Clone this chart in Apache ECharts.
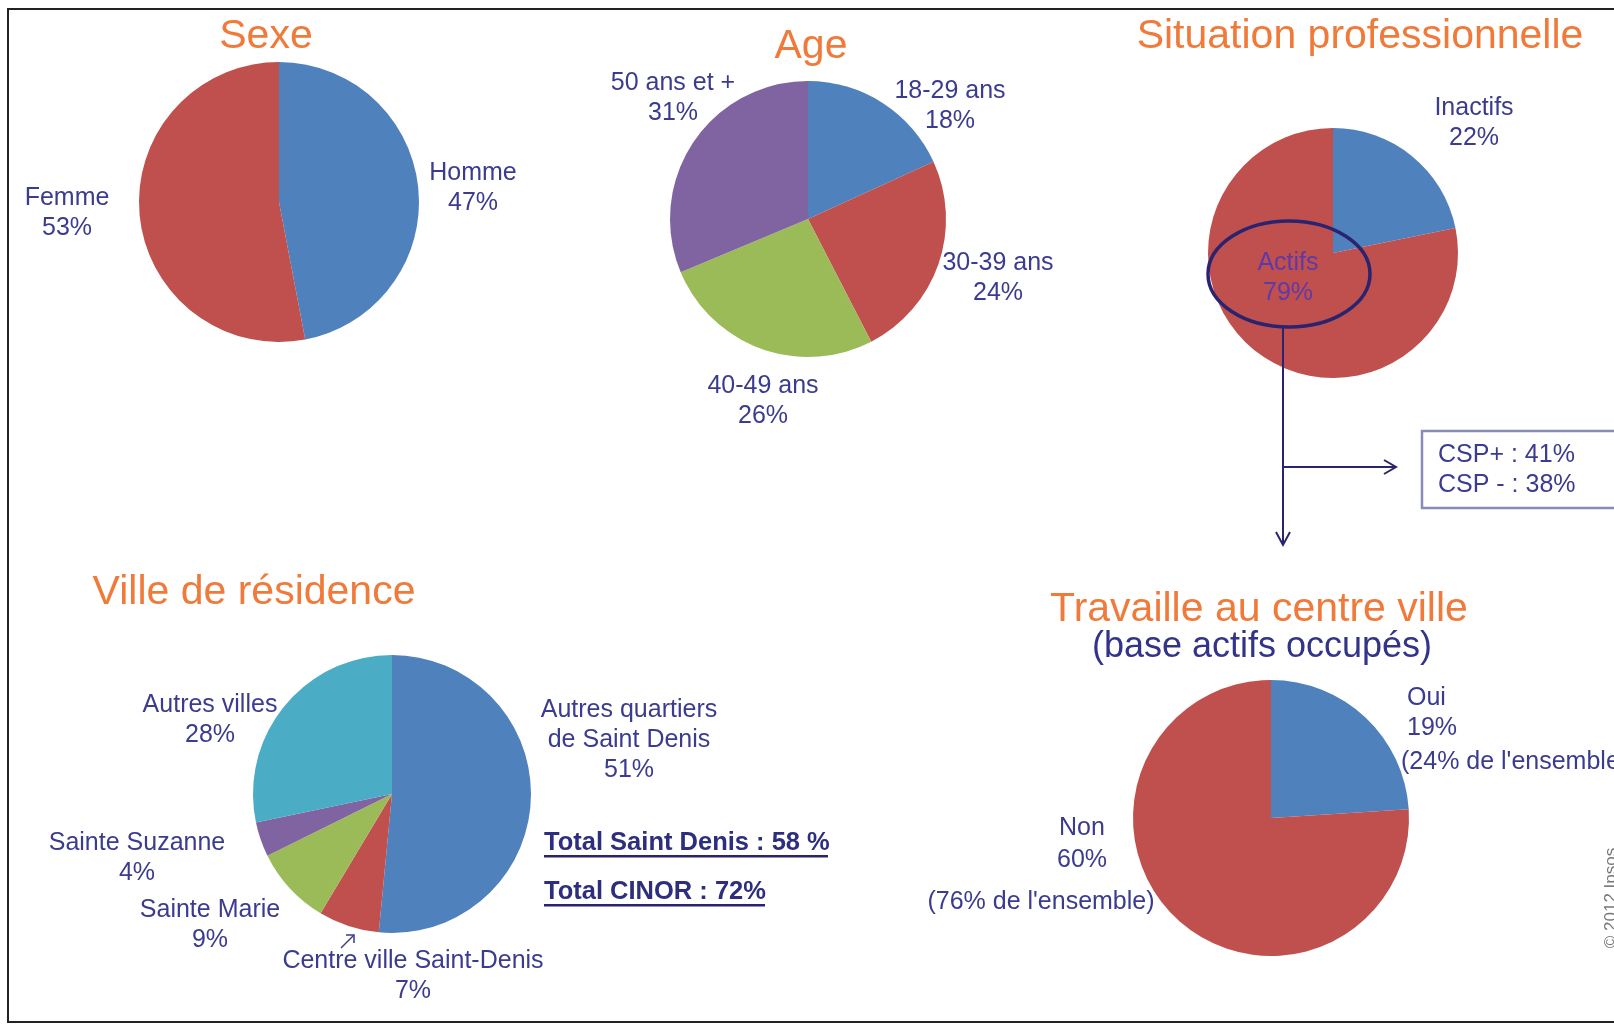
<!DOCTYPE html>
<html><head><meta charset="utf-8">
<script src="https://cdn.jsdelivr.net/npm/echarts@6/dist/echarts.min.js"></script>
<style>html,body{margin:0;padding:0;background:#fff;}#c{width:1614px;height:1025px;}</style>
</head><body><div id="c"></div>
<script>
// ---- Data ----
const sexeNames = ['Homme', 'Femme'];
const sexeValues = [47, 53];
const ageNames = ['18-29 ans', '30-39 ans', '40-49 ans', '50 ans et +'];
const ageValues = [18, 24, 26, 31];
const situNames = ['Inactifs', 'Actifs'];
const situValues = [22, 79];
const cspNames = ['CSP+', 'CSP -'];
const cspValues = [41, 38];
const villeNames = ['Autres quartiers\nde Saint Denis', 'Centre ville Saint-Denis', 'Sainte Marie', 'Sainte Suzanne', 'Autres villes'];
const villeValues = [51, 7, 9, 4, 28];
const totalNames = ['Total Saint Denis', 'Total CINOR'];
const totalValues = [58, 72];
const travNames = ['Oui', 'Non'];
const travValues = [19, 60];          // % shown as main label
const travEnsemble = [24, 76];        // % "de l'ensemble" (slice sizes)

// ---- Styles ----
const BLUE = '#4F81BD', RED = '#C0504D', GREEN = '#9BBB59', PURPLE = '#8064A2', CYAN = '#4BACC6';
const ORANGE = '#F07A3A', NAVY = '#3b3b8f', DARK = '#2a2470';
const FONT = '"Liberation Sans", Arial, sans-serif';

function pie(center, radius, names, values, colors) {
  return {
    type: 'pie', center: center, radius: radius, startAngle: 90, clockwise: true,
    label: { show: false }, labelLine: { show: false }, silent: true,
    itemStyle: { borderWidth: 0 },
    data: names.map((n, i) => ({ name: n, value: values[i], itemStyle: { color: colors[i] } }))
  };
}
function txt(x, y, text, o) {
  o = o || {};
  return {
    type: 'text', x: x, y: y, z: 100, silent: true,
    style: {
      text: text, fill: o.fill || NAVY, font: (o.weight || 'normal') + ' ' + (o.size || 25) + 'px ' + FONT,
      textAlign: o.align || 'center', textVerticalAlign: 'middle', lineHeight: o.lh || 30
    },
    rotation: o.rot || 0
  };
}
const pct = v => v + '%';

const graphics = [
  // frame
  { type: 'rect', shape: { x: 8, y: 9, width: 1640, height: 1013 }, style: { fill: 'none', stroke: '#222', lineWidth: 2 }, z: 0, silent: true },
  // titles
  txt(266, 37, 'Sexe', { fill: ORANGE, size: 41 }),
  txt(811, 47, 'Age', { fill: ORANGE, size: 41 }),
  txt(1360, 37, 'Situation professionnelle', { fill: ORANGE, size: 41 }),
  txt(254, 593, 'Ville de résidence', { fill: ORANGE, size: 41 }),
  txt(1259, 610, 'Travaille au centre ville', { fill: ORANGE, size: 41 }),
  txt(1262, 647, '(base actifs occupés)', { fill: '#33338a', size: 36 }),
  // Sexe labels
  txt(473, 188, sexeNames[0] + '\n' + pct(sexeValues[0])),
  txt(67, 213, sexeNames[1] + '\n' + pct(sexeValues[1])),
  // Age labels
  txt(950, 106, ageNames[0] + '\n' + pct(ageValues[0])),
  txt(998, 278, ageNames[1] + '\n' + pct(ageValues[1])),
  txt(763, 401, ageNames[2] + '\n' + pct(ageValues[2])),
  txt(673, 98, ageNames[3] + '\n' + pct(ageValues[3])),
  // Situation labels
  txt(1474, 123, situNames[0] + '\n' + pct(situValues[0])),
  txt(1288, 278, situNames[1] + '\n' + pct(situValues[1]), { fill: '#5e3aa8' }),
  { type: 'ellipse', shape: { cx: 1289, cy: 274, rx: 81, ry: 53 }, style: { fill: 'none', stroke: DARK, lineWidth: 3.5 }, z: 90, silent: true },
  { type: 'polyline', shape: { points: [[1283, 328], [1283, 545]] }, style: { stroke: DARK, lineWidth: 2, fill: 'none' }, z: 90, silent: true },
  { type: 'polyline', shape: { points: [[1276, 532], [1283, 545], [1290, 532]] }, style: { stroke: DARK, lineWidth: 2, fill: 'none' }, z: 90, silent: true },
  { type: 'polyline', shape: { points: [[1283, 467], [1396, 467]] }, style: { stroke: DARK, lineWidth: 2, fill: 'none' }, z: 90, silent: true },
  { type: 'polyline', shape: { points: [[1384, 460], [1396, 467], [1384, 474]] }, style: { stroke: DARK, lineWidth: 2, fill: 'none' }, z: 90, silent: true },
  { type: 'rect', shape: { x: 1422, y: 431, width: 260, height: 77 }, style: { fill: '#fff', stroke: '#8a8ab8', lineWidth: 2.5 }, z: 90, silent: true },
  txt(1438, 470, cspNames.map((n, i) => n + ' : ' + pct(cspValues[i])).join('\n'), { align: 'left' }),
  // Ville labels
  txt(629, 740, villeNames[0] + '\n' + pct(villeValues[0])),
  txt(413, 976, villeNames[1] + '\n' + pct(villeValues[1])),
  txt(210, 925, villeNames[2] + '\n' + pct(villeValues[2])),
  txt(137, 858, villeNames[3] + '\n' + pct(villeValues[3])),
  txt(210, 720, villeNames[4] + '\n' + pct(villeValues[4])),
  { type: 'polyline', shape: { points: [[341, 948], [354, 935]] }, style: { stroke: NAVY, lineWidth: 1.5, fill: 'none' }, z: 90, silent: true },
  { type: 'polyline', shape: { points: [[346, 935], [354, 935], [354, 943]] }, style: { stroke: NAVY, lineWidth: 1.5, fill: 'none' }, z: 90, silent: true },
  // Totals
  txt(544, 843, totalNames[0] + ' : ' + totalValues[0] + ' %', { align: 'left', weight: 'bold', fill: '#2e2e7e', size: 25.5 }),
  { type: 'rect', shape: { x: 544, y: 855, width: 284, height: 2.5 }, style: { fill: DARK }, z: 90, silent: true },
  txt(544, 892, totalNames[1] + ' : ' + pct(totalValues[1]), { align: 'left', weight: 'bold', fill: '#2e2e7e', size: 25.5 }),
  { type: 'rect', shape: { x: 544, y: 904, width: 221, height: 2.5 }, style: { fill: DARK }, z: 90, silent: true },
  // Travaille labels
  txt(1407, 713, travNames[0] + '\n' + pct(travValues[0]), { align: 'left' }),
  txt(1401, 762, '(' + pct(travEnsemble[0]) + " de l'ensemble)", { align: 'left' }),
  txt(1082, 844, travNames[1] + '\n' + pct(travValues[1]), { lh: 32 }),
  txt(1041, 902, '(' + pct(travEnsemble[1]) + " de l'ensemble)"),
  // copyright
  txt(1611, 898, '© 2012 Ipsos', { fill: '#777', size: 17, rot: Math.PI / 2 })
];

const chart = echarts.init(document.getElementById('c'), null, { renderer: 'canvas' });
chart.setOption({
  animation: false,
  backgroundColor: '#fff',
  series: [
    pie([279, 202], 140, sexeNames, sexeValues, [BLUE, RED]),
    pie([808, 219], 138, ageNames, ageValues, [BLUE, RED, GREEN, PURPLE]),
    pie([1333, 253], 125, situNames, situValues, [BLUE, RED]),
    pie([392, 794], 139, villeNames, villeValues, [BLUE, RED, GREEN, PURPLE, CYAN]),
    pie([1271, 818], 138, travNames, travEnsemble, [BLUE, RED])
  ],
  graphic: graphics
});
</script></body></html>
